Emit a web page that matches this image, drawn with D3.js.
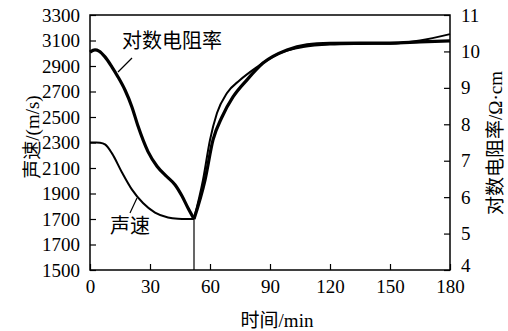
<!DOCTYPE html>
<html><head><meta charset="utf-8">
<script src="https://cdn.jsdelivr.net/npm/d3@7"></script>
<style>body{margin:0;background:#fff}svg{display:block}</style>
</head><body>
<svg id="c" width="508" height="331"></svg>
<script>
// ---- data ----
const speedTime   = [0, 3, 5, 7.5, 11, 16, 21, 26.5, 32.5, 39, 44, 48, 52, 56.5, 60, 63.5, 68.5, 75, 83.5, 95, 106.5, 120, 135, 150, 165, 180];
const speedValues = [2300, 2300, 2298, 2285, 2215, 2065, 1930, 1825, 1750, 1712, 1702, 1700, 1700, 2006, 2320, 2531, 2688, 2790, 2892, 3002, 3049, 3068, 3073, 3075, 3100, 3150];
const resTime     = [0, 2.5, 4.5, 7.5, 11, 14, 17.5, 21, 24, 29, 33.5, 38.5, 42.5, 46, 49, 52, 57.5, 61.5, 66, 71.5, 78.5, 86.5, 98.5, 108.5, 120, 135, 150, 165, 180];
const resValues   = [9.98, 10.04, 10.01, 9.85, 9.57, 9.30, 8.94, 8.47, 7.95, 7.25, 6.85, 6.56, 6.34, 6.03, 5.70, 5.40, 6.47, 7.57, 8.20, 8.75, 9.22, 9.68, 10.04, 10.18, 10.22, 10.23, 10.23, 10.26, 10.29];
const xTicks = [0, 30, 60, 90, 120, 150, 180];
const leftTickValues = [1300, 1500, 1700, 1900, 2100, 2300, 2500, 2700, 2900, 3100, 3300];
const leftTickLabels = ["1500", "1700", "1700", "1900", "2100", "2300", "2500", "2700", "2900", "3100", "3300"];
const rightTicks = [4, 5, 6, 7, 8, 9, 10, 11];
const minTime = 52, minSpeed = 1700;
const labels = {res: "对数电阻率", speed: "声速", x: "时间/min", yl: "声速/(m/s)", yr: "对数电阻率/Ω·cm"};

// ---- layout ----
const L = 90, R = 450, T = 15, B = 270;
const FONT = "'Liberation Serif','DejaVu Serif','Noto Sans CJK SC',serif";
const svg = d3.select("#c");
const x = d3.scaleLinear().domain([0, 180]).range([L, R]);
const yl = d3.scaleLinear().domain([1300, 3300]).range([B, T]);
const yr = d3.scaleLinear().domain([4, 11]).range([B, T]);

svg.append("rect").attr("x", L).attr("y", T).attr("width", R - L).attr("height", B - T)
  .attr("fill", "none").attr("stroke", "#000").attr("stroke-width", 1.5);

const tl = 6;
const xa = svg.append("g").attr("transform", `translate(0,${B})`)
  .call(d3.axisBottom(x).tickValues(xTicks).tickSizeInner(-tl).tickSizeOuter(0).tickPadding(tl + 8));
const la = svg.append("g").attr("transform", `translate(${L},0)`)
  .call(d3.axisLeft(yl).tickValues(leftTickValues).tickSizeInner(-tl).tickSizeOuter(0).tickPadding(tl + 4)
    .tickFormat((d, i) => leftTickLabels[i]));
const ra = svg.append("g").attr("transform", `translate(${R},0)`)
  .call(d3.axisRight(yr).tickValues(rightTicks).tickFormat(d3.format("d")).tickSizeInner(-tl).tickSizeOuter(0).tickPadding(tl + 5));
[xa, la, ra].forEach(g => {
  g.select(".domain").remove();
  g.selectAll(".tick line").attr("stroke", "#000").attr("stroke-width", 1.2);
  g.selectAll(".tick text").attr("fill", "#000").style("font-family", FONT).style("font-size", "19px");
});
xa.selectAll(".tick text").attr("dy", "0.45em");
// lift the bottom right label so it sits just above "180"
ra.selectAll(".tick text").filter(d => d === 4).attr("dy", "0.1em");

function seg(ts, vs, lo, hi) {
  return ts.map((t, i) => [t, vs[i]]).filter(p => p[0] >= lo && p[0] <= hi);
}
const lineL = d3.line().x(d => x(d[0])).y(d => yl(d[1])).curve(d3.curveMonotoneX);
const lineR = d3.line().x(d => x(d[0])).y(d => yr(d[1])).curve(d3.curveMonotoneX);
[[0, minTime], [minTime, 180]].forEach(([lo, hi]) => {
  svg.append("path").attr("d", lineR(seg(resTime, resValues, lo, hi)))
    .attr("fill", "none").attr("stroke", "#000").attr("stroke-width", 3.2).attr("stroke-linejoin", "round");
  svg.append("path").attr("d", lineL(seg(speedTime, speedValues, lo, hi)))
    .attr("fill", "none").attr("stroke", "#000").attr("stroke-width", 2).attr("stroke-linejoin", "round");
});

svg.append("line").attr("x1", x(minTime)).attr("x2", x(minTime)).attr("y1", yl(minSpeed)).attr("y2", B)
  .attr("stroke", "#000").attr("stroke-width", 1.2);

svg.append("text").attr("x", 122).attr("y", 48).text(labels.res)
  .style("font-family", FONT).style("font-size", "20px");
svg.append("line").attr("x1", 132).attr("y1", 58).attr("x2", 118).attr("y2", 72).attr("stroke", "#000").attr("stroke-width", 1.2);
svg.append("text").attr("x", 110).attr("y", 233).text(labels.speed)
  .style("font-family", FONT).style("font-size", "20px");
svg.append("line").attr("x1", 137).attr("y1", 198).attr("x2", 130).attr("y2", 213).attr("stroke", "#000").attr("stroke-width", 1.2);

svg.append("text").attr("x", 277).attr("y", 327).attr("text-anchor", "middle").text(labels.x)
  .style("font-family", FONT).style("font-size", "19px");
svg.append("text").attr("transform", "translate(32,137) rotate(-90)").attr("text-anchor", "middle")
  .attr("dominant-baseline", "central").text(labels.yl).style("font-family", FONT).style("font-size", "19px");
svg.append("text").attr("transform", "translate(495,143) rotate(-90)").attr("text-anchor", "middle")
  .attr("dominant-baseline", "central").text(labels.yr).style("font-family", FONT).style("font-size", "19px");
</script>
</body></html>
